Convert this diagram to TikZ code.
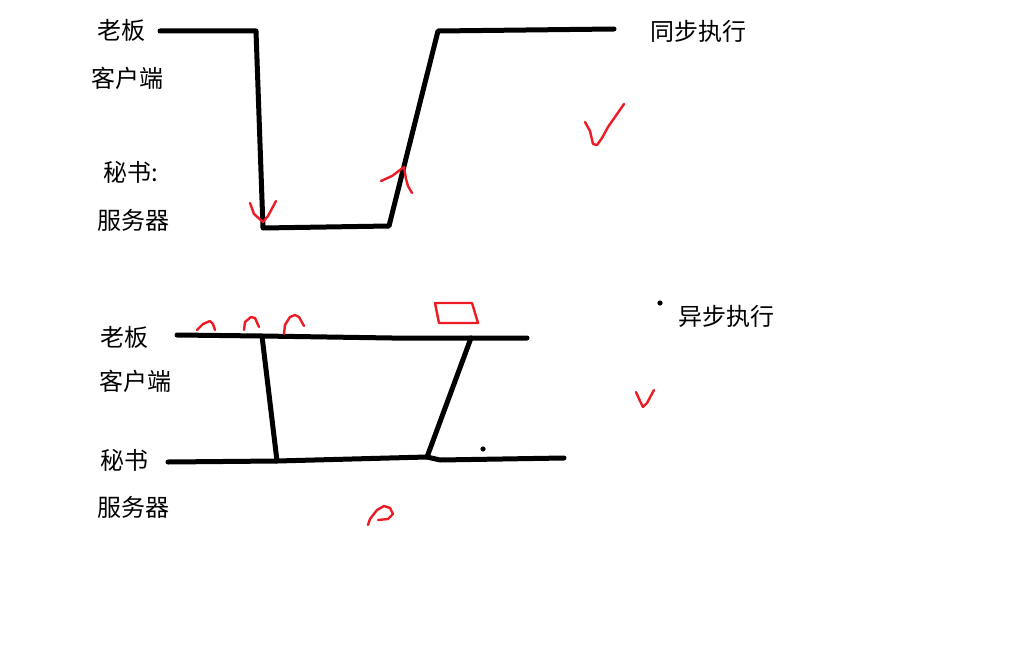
\documentclass[tikz,border=0pt]{standalone}
\usepackage{fontspec}
\newfontfamily\cjk{Noto Sans CJK SC}
\definecolor{pen}{RGB}{237,28,36}
\tikzset{
  lbl/.style={font=\cjk\fontsize{24}{28}\selectfont, inner sep=0pt, anchor=center},
  thick line/.style={line width=5pt, line join=round, line cap=round, black},
  redpen/.style={line width=2.4pt, pen, line join=round, line cap=round},
}
\begin{document}
\begin{tikzpicture}[x=1pt,y=-1pt]
\useasboundingbox[fill=white] (0,0) rectangle (1014,658);
% top labels
\node[lbl] (boss1) at (121,30) {老板};
\node[lbl] (client1) at (127,78) {客户端};
\node[lbl] (sec1) at (131,172) {秘书:};
\node[lbl] (server1) at (133,220) {服务器};
\node[lbl] (sync) at (698,31) {同步执行};
% top line
\coordinate (a1) at (160,31);
\coordinate (a2) at (256,31);
\coordinate (a3) at (263,228);
\coordinate (a4) at (389,226);
\coordinate (a5) at (438,31);
\coordinate (a6) at (614,29);
\draw[thick line] (a1) -- (a2) -- (a3) -- (a4) -- (a5) -- (a6);
% red marks top
\draw[redpen] (250,203) -- (254,214) -- (263,222) -- (268,216) -- (276,201);
\draw[redpen] (381,181) -- (392,176) -- (400,170) -- (404,167) -- (406,179) -- (408,186) -- (412,193);
\draw[redpen] (585,122) -- (590,131) -- (593,144) -- (597,145) -- (602,138) -- (608,127) -- (615,117) -- (624,104);
% bottom labels
\node[lbl] (boss2) at (124,337) {老板};
\node[lbl] (client2) at (135,381) {客户端};
\node[lbl] (sec2) at (124,460) {秘书};
\node[lbl] (server2) at (133,507) {服务器};
\node[lbl] (async) at (726,316) {异步执行};
% bottom lines
\coordinate (b1) at (177,335);
\coordinate (b2) at (262,336);
\coordinate (b3) at (392,338);
\coordinate (b4) at (471,338);
\coordinate (b5) at (527,338);
\coordinate (c1) at (168,462);
\coordinate (c2) at (277,461);
\coordinate (c3) at (427,457);
\coordinate (c4) at (440,460);
\coordinate (c5) at (564,458);
\draw[thick line] (b1) -- (b2) -- (b3) -- (b5);
\draw[thick line] (c1) -- (c2) -- (c3) -- (c4) -- (c5);
\draw[thick line] (b2) -- (c2);
\draw[thick line] (b4) -- (c3);
\fill (483,449) circle (2.6);
\fill (660,303) circle (2.6);
% red marks bottom
\draw[redpen] (197,330) -- (203,324) -- (210,321) -- (213,324) -- (215,330);
\draw[redpen] (244,330) -- (245,322) -- (251,317) -- (255,318) -- (259,327);
\draw[redpen] (284,334) -- (285,325) -- (290,317) -- (295,315) -- (299,317) -- (304,326);
\draw[redpen] (435,303) -- (472,303) -- (478,323) -- (439,323) -- cycle;
\draw[redpen] (636,392) -- (640,401) -- (643,407) -- (647,403) -- (654,390);
\draw[redpen] (368,525) -- (370,519) -- (377,510) -- (384,506) -- (390,508) -- (393,514) -- (388,519) -- (378,520);
\end{tikzpicture}
\end{document}
